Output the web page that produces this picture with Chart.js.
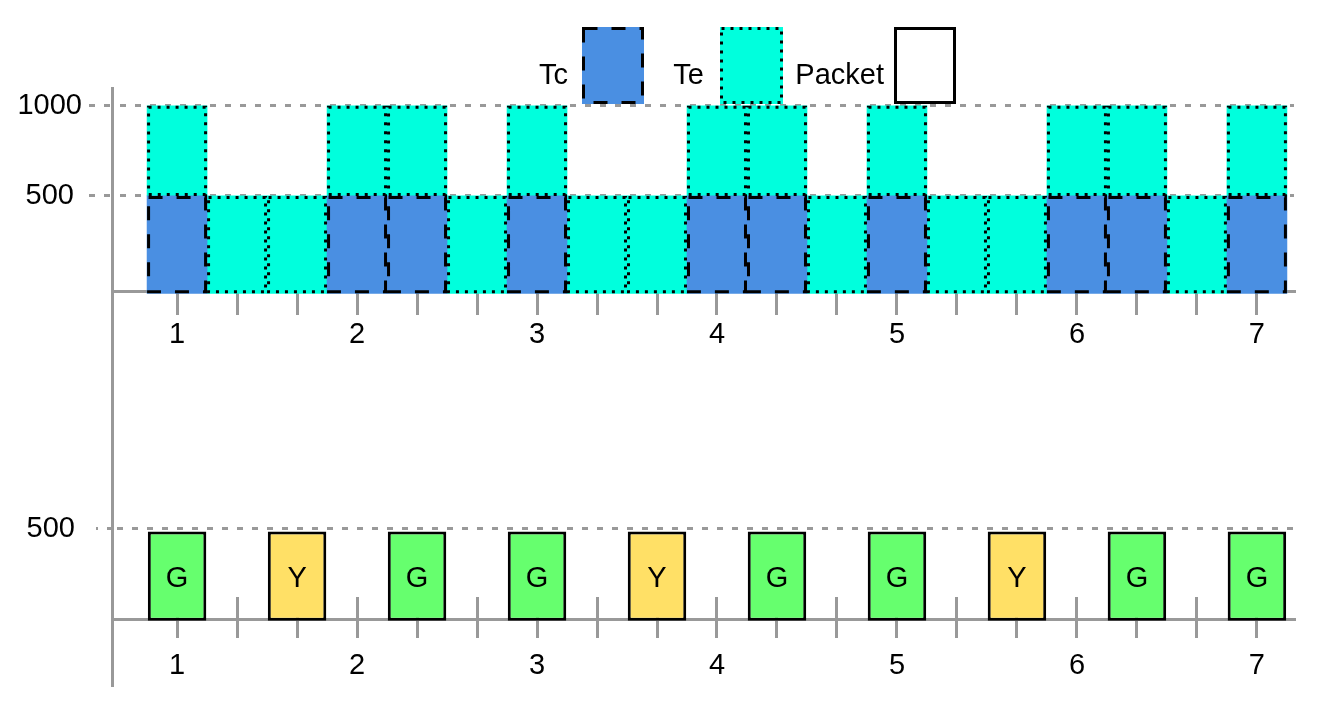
<!DOCTYPE html>
<html><head><meta charset="utf-8">
<script src="https://cdn.jsdelivr.net/npm/chart.js@4.4.1/dist/chart.umd.min.js"></script>
<style>
html,body{margin:0;padding:0;background:#fff;}
#wrap{position:relative;width:1323px;height:717px;overflow:hidden;background:#fff;}
canvas{position:absolute;left:0;}
#c1{top:0;}
#c2{top:360px;}
</style></head><body>
<div id="wrap"><canvas id="c1" width="1323" height="360"></canvas><canvas id="c2" width="1323" height="357"></canvas></div>
<script>
// ---------- data ----------
const slotTimes = [1, 4/3, 5/3, 2, 7/3, 8/3, 3, 10/3, 11/3, 4, 13/3, 14/3, 5, 16/3, 17/3, 6, 19/3, 20/3, 7];
const xTickLabels = ['1','','','2','','','3','','','4','','','5','','','6','','','7'];
const tcValues = [500,null,null,500,500,null,500,null,null,500,500,null,500,null,null,500,500,null,500];
const teValues = [500,500,500,500,500,500,500,500,500,500,500,500,500,500,500,500,500,500,500];
const packetTimes = [1, 5/3, 7/3, 3, 11/3, 13/3, 5, 17/3, 19/3, 7];
const packetLabels = ['G','Y','G','G','Y','G','G','Y','G','G'];
const packetValues = [485,485,485,485,485,485,485,485,485,485];
const topYTicks = [500, 1000];
const bottomYTicks = [500];
const seriesNames = ['Tc', 'Te', 'Packet'];

// ---------- styling ----------
const FONT = "'Liberation Sans', Arial, Helvetica, sans-serif";
Chart.defaults.font.family = FONT;
Chart.defaults.font.size = 29;
Chart.defaults.color = '#000';
const AXIS = '#999';
const TC_COLOR = '#4a8fe2', TE_COLOR = '#00ffdd', G_COLOR = '#66ff6e', Y_COLOR = '#ffe066';
const DASH_TC = [14, 14], DOT_TE = [3, 6];
const TOP_FLOOR = -40, BOTTOM_FLOOR = -10;   // bars reach slightly below the axis line

const tcData = slotTimes.map((t, i) => tcValues[i] == null ? null : {x: t, y: [TOP_FLOOR, tcValues[i]]}).filter(d => d);
const teData = slotTimes.map((t, i) => {
  const below = tcValues[i] == null ? 0 : tcValues[i];
  const start = tcValues[i] == null ? TOP_FLOOR : tcValues[i];
  return {x: t, y: [start, below + teValues[i]]};
});
const packetData = packetTimes.map((t, i) => ({x: t, y: packetValues[i]}));

function xScale(tl, pad, height) {
  return {
    type: 'linear', min: 0.644, max: 7.206, offset: false,
    afterBuildTicks: s => { s.ticks = slotTimes.map(v => ({value: v})); },
    afterFit: s => { s.height = height; s.paddingLeft = 0; s.paddingRight = 0; },
    ticks: { autoSkip: false, maxRotation: 0, minRotation: 0, padding: pad, color: '#000',
             callback: (v, i) => xTickLabels[i] },
    grid: { offset: false, drawOnChartArea: false, drawTicks: true, tickLength: tl,
            tickColor: AXIS, tickWidth: 3, lineWidth: 3, color: AXIS },
    border: { display: true, color: AXIS, width: 3 }
  };
}
function yScale(min, max, ticks, tl, pad, dashOffset, tickDashOffset) {
  return {
    type: 'linear', min, max,
    afterBuildTicks: s => { s.ticks = ticks.map(v => ({value: v})); },
    afterFit: s => { s.width = 113; s.paddingTop = 0; s.paddingBottom = 0; },
    ticks: { padding: pad, crossAlign: 'center', color: '#000', callback: v => String(v) },
    grid: { color: AXIS, lineWidth: 3, drawTicks: true, tickLength: tl, tickColor: AXIS, tickWidth: 3,
            tickBorderDash: [6, 9], tickBorderDashOffset: tickDashOffset },
    border: { display: false, dash: [6, 9], dashOffset: dashOffset }
  };
}

function drawYAxisLine(chart, y0, y1) {
  const ctx = chart.ctx;
  ctx.save();
  ctx.strokeStyle = AXIS; ctx.lineWidth = 3;
  ctx.beginPath();
  ctx.moveTo(chart.chartArea.left - 0.5, y0);
  ctx.lineTo(chart.chartArea.left - 0.5, y1);
  ctx.stroke();
  ctx.restore();
}
function drawUpTicks(chart) {
  const ctx = chart.ctx, xs = chart.scales.x, b = chart.chartArea.bottom;
  ctx.save();
  ctx.strokeStyle = AXIS; ctx.lineWidth = 3;
  for (let i = 0; i < xs.ticks.length; i++) {
    const px = Math.round(xs.getPixelForTick(i) - 1.5) + 1.5;
    ctx.beginPath(); ctx.moveTo(px, b); ctx.lineTo(px, b - 22); ctx.stroke();
  }
  ctx.restore();
}
function strokeBars(chart) {
  const ctx = chart.ctx;
  chart.data.datasets.forEach((ds, di) => {
    if (!ds.strokeDash) return;
    const meta = chart.getDatasetMeta(di);
    ctx.save();
    ctx.strokeStyle = '#000'; ctx.lineWidth = 3; ctx.setLineDash(ds.strokeDash);
    meta.data.forEach(el => {
      const p = el.getProps(['x', 'y', 'base', 'width'], true);
      const left = p.x - p.width / 2, top = Math.min(p.y, p.base), h = Math.abs(p.base - p.y);
      ctx.strokeRect(left + 1.5, top + 1.5, p.width - 3, h - 3);
    });
    ctx.restore();
  });
}
const legendItems = [
  {label: seriesNames[0], fill: TC_COLOR, dash: DASH_TC, box: [582, 27, 62, 77], textRight: 568},
  {label: seriesNames[1], fill: TE_COLOR, dash: DOT_TE, box: [720, 27, 63, 77], textRight: 704},
  {label: seriesNames[2], fill: '#ffffff', dash: [], box: [894, 27, 62, 77], textRight: 884}
];
function drawLegend(chart) {
  const ctx = chart.ctx;
  ctx.save();
  ctx.font = '29px ' + FONT; ctx.fillStyle = '#000'; ctx.textAlign = 'right'; ctx.textBaseline = 'alphabetic';
  legendItems.forEach(it => {
    const [x, y, w, h] = it.box;
    ctx.fillStyle = '#000';
    ctx.fillText(it.label, it.textRight, 84);
    ctx.fillStyle = it.fill; ctx.fillRect(x, y, w, h);
    ctx.strokeStyle = '#000'; ctx.lineWidth = 3; ctx.setLineDash(it.dash);
    ctx.strokeRect(x + 1.5, y + 1.5, w - 3, h - 3);
  });
  ctx.restore();
}

const common = {
  responsive: false, animation: false, devicePixelRatio: 1, events: [],
  plugins: { legend: { display: false }, tooltip: { enabled: false } }
};

new Chart(document.getElementById('c1'), {
  type: 'bar',
  data: { datasets: [
    { label: seriesNames[0], data: tcData, backgroundColor: TC_COLOR, borderWidth: 0, grouped: false, clip: false,
      barPercentage: 1, categoryPercentage: 1, strokeDash: DASH_TC },
    { label: seriesNames[1], data: teData, backgroundColor: TE_COLOR, borderWidth: 0, grouped: false, clip: false,
      barPercentage: 1, categoryPercentage: 1, strokeDash: DOT_TE }
  ]},
  options: Object.assign({}, common, {
    layout: { padding: { top: 87, right: 29, bottom: 0, left: 0 } },
    scales: { x: xScale(24, 3, 69), y: yScale(-27, 1104, topYTicks, 26, 5, 8, 13) }
  }),
  plugins: [{
    id: 'topDeco',
    beforeDatasetsDraw(chart) { drawUpTicks(chart); drawYAxisLine(chart, chart.chartArea.top, chart.height); },
    afterDatasetsDraw(chart) { strokeBars(chart); },
    afterDraw(chart) { drawLegend(chart); }
  }]
});

new Chart(document.getElementById('c2'), {
  type: 'bar',
  data: { datasets: [
    { label: seriesNames[2], data: packetData,
      backgroundColor: packetLabels.map(l => l === 'G' ? G_COLOR : Y_COLOR),
      borderColor: '#000', borderWidth: 3, borderSkipped: false, base: BOTTOM_FLOOR, clip: false,
      barPercentage: 0.975, categoryPercentage: 1 }
  ]},
  options: Object.assign({}, common, {
    layout: { padding: { top: 0, right: 29, bottom: 0, left: 0 } },
    scales: { x: xScale(19, 11, 98), y: yScale(0, 1436, bottomYTicks, 17, 21, 11, 4) }
  }),
  plugins: [{
    id: 'bottomDeco',
    beforeDatasetsDraw(chart) { drawUpTicks(chart); drawYAxisLine(chart, 0, chart.chartArea.bottom + 68); },
    afterDatasetsDraw(chart) {
      const ctx = chart.ctx, meta = chart.getDatasetMeta(0);
      ctx.save();
      ctx.font = '29px ' + FONT; ctx.fillStyle = '#000'; ctx.textAlign = 'center'; ctx.textBaseline = 'middle';
      meta.data.forEach((el, i) => {
        const p = el.getProps(['x', 'y', 'base'], true);
        ctx.fillText(packetLabels[i], p.x, (p.y + p.base) / 2 + 3);
      });
      ctx.restore();
    }
  }]
});
</script>
</body></html>
